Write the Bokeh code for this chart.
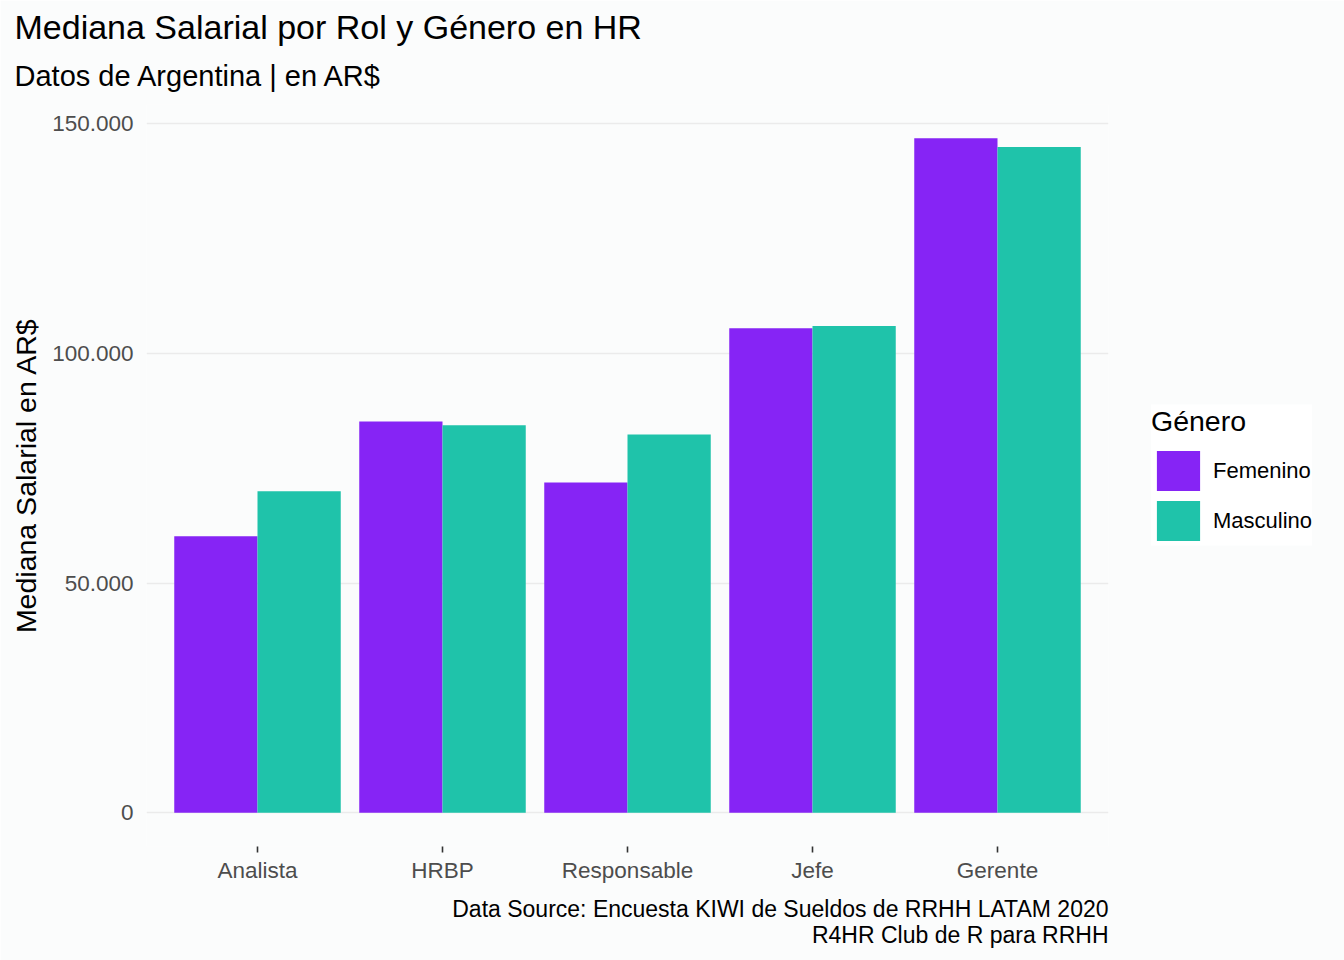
from bokeh.plotting import figure
from bokeh.models import ColumnDataSource, FactorRange, Range1d, FixedTicker, Legend, LegendItem, Title
from bokeh.transform import dodge
from bokeh.embed import file_html
from bokeh.resources import INLINE

roles = ["Analista", "HRBP", "Responsable", "Jefe", "Gerente"]
femenino = [60200, 85200, 71900, 105500, 146900]
masculino = [70000, 84400, 82400, 106000, 145000]
genders = ["Femenino", "Masculino"]
colors = ["#8624F5", "#1FC3AA"]
y_ticks = [0, 50000, 100000, 150000]
y_tick_labels = ["0", "50.000", "100.000", "150.000"]

title_text = "Mediana Salarial por Rol y Género en HR"
subtitle_text = "Datos de Argentina | en AR$"
y_label = "Mediana Salarial en AR$"
caption_lines = ["Data Source: Encuesta KIWI de Sueldos de RRHH LATAM 2020",
                 "R4HR Club de R para RRHH"]

FONT = "Liberation Sans"
BG = "#FBFCFC"

src = ColumnDataSource(dict(rol=roles, Femenino=femenino, Masculino=masculino))

ymax = max(max(femenino), max(masculino))
pad = ymax * 0.05

p = figure(frame_width=962, frame_height=742, output_backend="svg", toolbar_location=None,
           x_range=FactorRange(*roles, range_padding=0.1, range_padding_units="absolute"),
           y_range=Range1d(-pad, ymax + pad),
           min_border_left=146, min_border_right=236, min_border_top=104, min_border_bottom=114)
p.background_fill_color = BG
p.border_fill_color = BG
p.outline_line_color = None

r_f = p.vbar(x=dodge("rol", -0.225, range=p.x_range), top="Femenino", width=0.45, source=src,
             fill_color=colors[0], line_color=None)
r_m = p.vbar(x=dodge("rol", 0.225, range=p.x_range), top="Masculino", width=0.45, source=src,
             fill_color=colors[1], line_color=None)

p.xgrid.grid_line_color = None
p.ygrid.ticker = FixedTicker(ticks=y_ticks)
p.ygrid.grid_line_color = "#EBEBEB"
p.ygrid.grid_line_width = 1.6

# y axis
p.yaxis.ticker = FixedTicker(ticks=y_ticks)
p.yaxis.major_label_overrides = {t: l for t, l in zip(y_ticks, y_tick_labels)}
p.yaxis.axis_line_color = None
p.yaxis.major_tick_line_color = None
p.yaxis.major_tick_in = 0
p.yaxis.major_tick_out = 0
p.yaxis.minor_tick_line_color = None
p.yaxis.minor_tick_in = 0
p.yaxis.minor_tick_out = 0
p.yaxis.major_label_standoff = 13
p.yaxis.major_label_text_font = FONT
p.yaxis.major_label_text_font_size = "22.5px"
p.yaxis.major_label_text_color = "#4D4D4D"
p.yaxis.axis_label = y_label
p.yaxis.axis_label_text_font = FONT
p.yaxis.axis_label_text_font_size = "28.5px"
p.yaxis.axis_label_text_font_style = "normal"
p.yaxis.axis_label_text_color = "black"
p.yaxis.axis_label_standoff = 7

# x axis
p.xaxis.axis_line_color = None
p.xaxis.major_tick_in = 0
p.xaxis.major_tick_out = 6
p.xaxis.major_tick_line_color = "#333333"
p.xaxis.major_tick_line_width = 1.6
p.xaxis.minor_tick_line_color = None
p.xaxis.major_label_standoff = 5
p.xaxis.major_label_text_font = FONT
p.xaxis.major_label_text_font_size = "22.5px"
p.xaxis.major_label_text_color = "#4D4D4D"

# titles (above: first added is nearest the frame)
p.add_layout(Title(text=subtitle_text, align="left", offset=-132, standoff=26,
                   text_font=FONT, text_font_size="29px", text_font_style="normal",
                   text_color="black"), "above")
p.add_layout(Title(text=title_text, align="left", offset=-132, standoff=-2,
                   text_font=FONT, text_font_size="34px", text_font_style="normal",
                   text_color="black"), "above")

# caption (below: first added is nearest the axis)
p.add_layout(Title(text=caption_lines[0], align="right", offset=0, standoff=17,
                   text_font=FONT, text_font_size="23px", text_font_style="normal",
                   text_color="black"), "below")
p.add_layout(Title(text=caption_lines[1], align="right", offset=0, standoff=-21,
                   text_font=FONT, text_font_size="23px", text_font_style="normal",
                   text_color="black"), "below")

legend = Legend(items=[LegendItem(label=genders[0], renderers=[r_f]),
                       LegendItem(label=genders[1], renderers=[r_m])],
                location="left", title="Género",
                title_text_font=FONT, title_text_font_size="28.5px", title_text_font_style="normal",
                title_text_color="black", title_standoff=8,
                label_text_font=FONT, label_text_font_size="22px", label_text_color="black",
                glyph_width=54, glyph_height=50, label_height=50, spacing=0, label_standoff=8,
                padding=15, margin=43, border_line_color=None,
                background_fill_color="white", background_fill_alpha=1.0)
p.add_layout(legend, "right")

open("out.html", "w").write(file_html(p, INLINE))
